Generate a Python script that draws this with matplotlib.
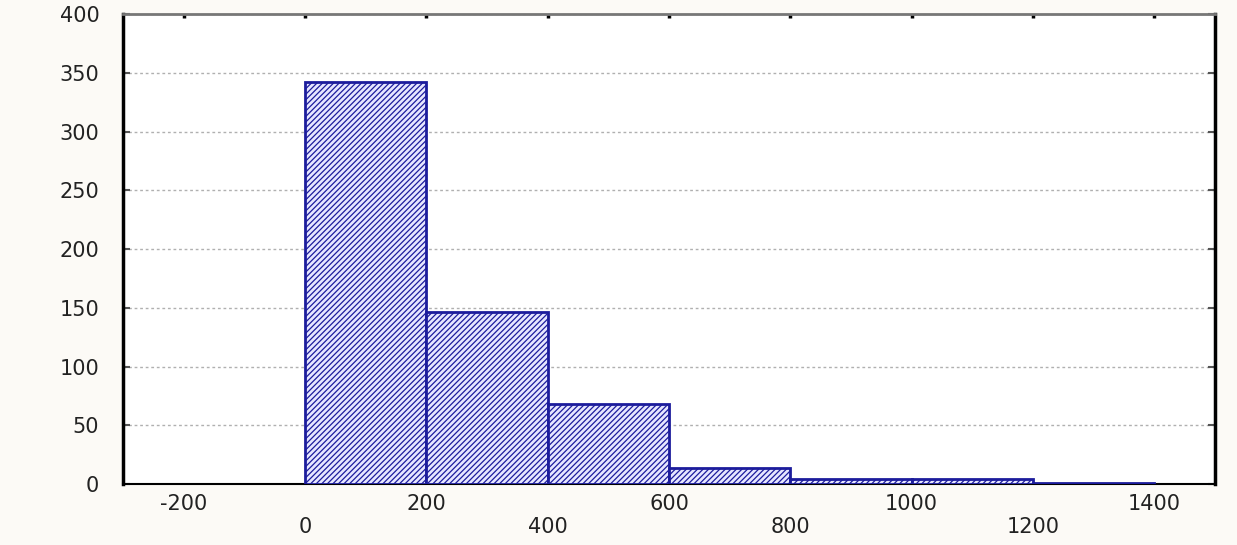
import matplotlib.pyplot as plt
import numpy as np

bin_edges = [0, 200, 400, 600, 800, 1000, 1200, 1400]
counts = [342, 146, 68, 14, 4, 4, 1]
x_ticks = [-200, 0, 200, 400, 600, 800, 1000, 1200, 1400]
y_ticks = [0, 50, 100, 150, 200, 250, 300, 350, 400]

bg = "#fcfaf6"
navy = "#1c1c9c"

plt.rcParams["hatch.color"] = navy
plt.rcParams["hatch.linewidth"] = 0.9

fig = plt.figure(figsize=(12.37, 5.45), dpi=100, facecolor=bg)
ax = fig.add_axes([0.0994, 0.112, 0.8828, 0.862])
ax.set_facecolor("white")

widths = np.diff(bin_edges)
ax.bar(bin_edges[:-1], counts, width=widths, align="edge",
       facecolor="#e6e6ff", edgecolor=navy, linewidth=2, hatch="//////",
       zorder=3)

ax.set_xlim(-300, 1500)
ax.set_ylim(0, 400)
ax.set_yticks(y_ticks)
ax.set_xticks(x_ticks)
ax.set_xticklabels([str(v) for v in x_ticks])

# dotted horizontal grid only
ax.yaxis.grid(True, linestyle=(0, (2, 2)), color="#b0b0b0", linewidth=1)
ax.set_axisbelow(True)

ax.tick_params(axis="both", direction="in", length=5, width=1.5,
               labelsize=15, labelcolor="#222222", colors="#555555")
ax.tick_params(axis="y", pad=17)
ax.tick_params(axis="y", right=True)
ax.tick_params(axis="x", top=True, bottom=False, length=3, width=2.5,
               colors="black")

# staggered x labels, two rows
for i, tick in enumerate(ax.xaxis.get_major_ticks()):
    tick.set_pad(7 if i % 2 == 0 else 24)

for side in ["left", "right", "bottom"]:
    ax.spines[side].set_color("black")
ax.spines["left"].set_linewidth(2.5)
ax.spines["right"].set_linewidth(2.5)
ax.spines["bottom"].set_linewidth(1.5)
ax.spines["top"].set_color("#777777")
ax.spines["top"].set_linewidth(2)

for lbl in ax.get_xticklabels() + ax.get_yticklabels():
    lbl.set_color("#222222")

fig.savefig("out.png", dpi=100, facecolor=bg)
